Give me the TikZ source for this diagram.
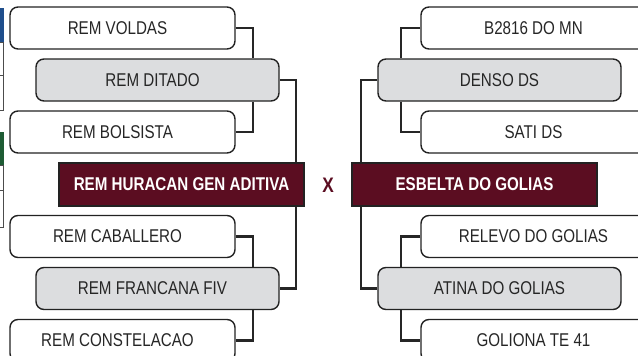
\documentclass[tikz,border=0pt]{standalone}
\usepackage{fontspec}
\setmainfont{Liberation Sans}[FakeStretch=0.82]
\definecolor{maroon}{HTML}{5B0D21}
\definecolor{boxgray}{HTML}{DCDDDF}
\definecolor{edge}{HTML}{222222}
\definecolor{lblue}{HTML}{1F4E8C}
\definecolor{lgreen}{HTML}{1E5C34}
\tikzset{
  entry/.style={draw=edge, line width=1.4pt, rounded corners=8pt, fill=white,
    minimum width=225pt, minimum height=42pt, inner sep=0pt,
    font=\fontsize{18.5}{18.5}\selectfont, text=black!85},
  winner/.style={entry, fill=boxgray, minimum width=243pt},
  lside/.style={execute at end node={\hspace*{10pt}}},
  finalist/.style={draw=edge, line width=1.2pt, fill=maroon, text=white,
    minimum width=245pt, minimum height=43pt, inner sep=0pt,
    font=\fontsize{18.5}{18.5}\selectfont\bfseries},
  link/.style={draw=black!85, line width=2.2pt},
  edgebox/.style={draw=black!70, line width=0.8pt}
}
\begin{document}
\begin{tikzpicture}[x=1pt,y=-1pt]
\useasboundingbox (0,0) rectangle (638,356);
\clip (0,0) rectangle (638,356);
% remnants at left edge
\fill[lblue] (-2,8) rectangle (3.5,42);
\draw[edgebox] (-2,42) -- (3,42) -- (3,110) -- (-2,110);
\draw[edgebox] (-2,75) -- (3,75);
\fill[lgreen] (-2,132) rectangle (3.5,165);
\draw[edgebox] (-2,165) -- (3,165) -- (3,227) -- (-2,227);
\draw[edgebox] (-2,190) -- (3,190);
% junction columns
\coordinate (jL) at (253,0);
\coordinate (jM) at (296,0);
\coordinate (jN) at (361,0);
\coordinate (jR) at (401,0);
% left side
\node[entry,lside]  (voldas)   at (122.5,28)  {REM VOLDAS};
\node[winner,lside] (ditado)   at (157.5,80)  {REM DITADO};
\node[entry,lside]  (bolsista) at (122.5,132) {REM BOLSISTA};
\node[finalist] (huracan) at (181.5,184.5) {REM HURACAN GEN ADITIVA};
\node[entry,lside]  (caballero) at (122.5,236.5) {REM CABALLERO};
\node[winner,lside] (francana) at (157.5,288.5) {REM FRANCANA FIV};
\node[entry,lside]  (constelacao) at (122.5,340.5) {REM CONSTELACAO};
% right side
\node[entry]  (b2816)  at (533.5,28)  {B2816 DO MN};
\node[winner] (denso)  at (499.5,80)  {DENSO DS};
\node[entry]  (sati)   at (533.5,132) {SATI DS};
\node[finalist] (esbelta) at (474.5,184.5) {ESBELTA DO GOLIAS};
\node[entry]  (relevo) at (533.5,236.5) {RELEVO DO GOLIAS};
\node[winner] (atina)  at (499.5,288.5) {ATINA DO GOLIAS};
\node[entry]  (goliona) at (533.5,340.5) {GOLIONA TE 41};
\node[text=maroon, font=\fontsize{21}{21}\selectfont\bfseries] (vs) at (328,185.5) {X};
% connectors left
\draw[link] (voldas.east) -| (ditado.north -| jL);
\draw[link] (ditado.south -| jL) |- (bolsista.east);
\draw[link] (ditado.east) -| (huracan.north -| jM);
\draw[link] (huracan.south -| jM) |- (francana.east);
\draw[link] (caballero.east) -| (francana.north -| jL);
\draw[link] (francana.south -| jL) |- (constelacao.east);
% connectors right
\draw[link] (b2816.west) -| (denso.north -| jR);
\draw[link] (denso.south -| jR) |- (sati.west);
\draw[link] (denso.west) -| (esbelta.north -| jN);
\draw[link] (esbelta.south -| jN) |- (atina.west);
\draw[link] (relevo.west) -| (atina.north -| jR);
\draw[link] (atina.south -| jR) |- (goliona.west);
\end{tikzpicture}
\end{document}
